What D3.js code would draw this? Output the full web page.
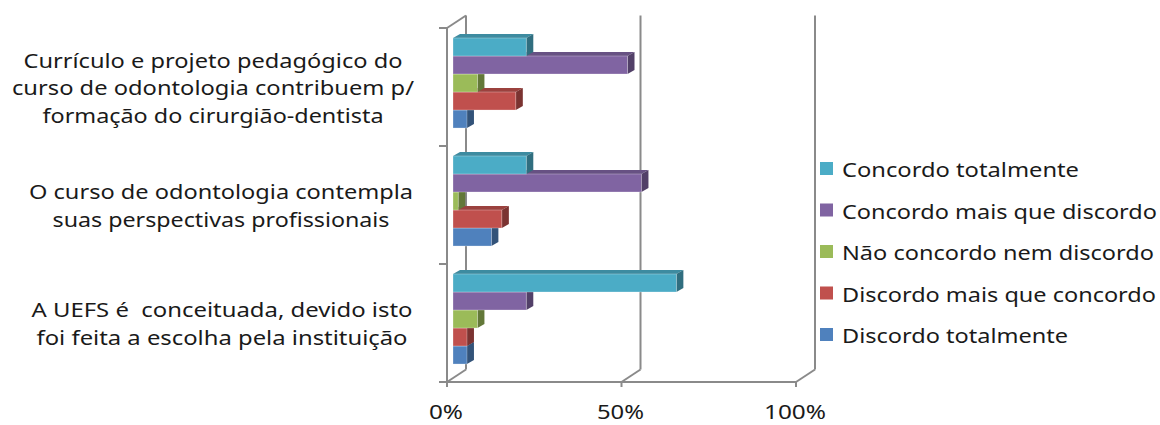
<!DOCTYPE html>
<html>
<head>
<meta charset="utf-8">
<script src="https://cdn.jsdelivr.net/npm/d3@7"></script>
<style>
  html, body { margin: 0; padding: 0; background: #fff; }
  svg { display: block; }
  text { font-family: "Noto Sans", "Open Sans", sans-serif; fill: #1a1a1a; white-space: pre; }
</style>
</head>
<body>
<svg id="chart" width="1160" height="425"></svg>
<script>
// ---------- DATA ----------
const categories = [
  ["Currículo e projeto pedagógico do", "curso de odontologia contribuem p/", "formação do cirurgião-dentista"],
  ["O curso de odontologia contempla", "suas perspectivas profissionais"],
  ["A UEFS é  conceituada, devido isto", "foi feita a escolha pela instituição"]
];
const seriesNames = [
  "Concordo totalmente",
  "Concordo mais que discordo",
  "Não concordo nem discordo",
  "Discordo mais que concordo",
  "Discordo totalmente"
];
// values in %, one per category (top to bottom)
const concordoTotalmente      = [21, 21, 64];
const concordoMaisQueDiscordo = [50, 54, 21];
const naoConcordoNemDiscordo  = [7, 1.5, 7];
const discordoMaisQueConcordo = [18, 14, 4];
const discordoTotalmente      = [4, 11, 4];
const seriesValues = [concordoTotalmente, concordoMaisQueDiscordo, naoConcordoNemDiscordo, discordoMaisQueConcordo, discordoTotalmente];
const xTicks = [0, 50, 100];
const xTickLabels = ["0%", "50%", "100%"];

// ---------- LAYOUT / STYLE ----------
const colors = ["#4BACC6", "#8064A2", "#9BBB59", "#C0504D", "#4F81BD"];
const labelWidths = [[379, 402, 341], [384, 337], [381, 371]];
const labelCenters = [213, 221, 222];
const legendWidths = [237, 315, 312, 314, 226];
const plot = { left: 447, right: 796, top: 28, bottom: 382 };
const DX = 19, DY = -12.5;      // wall depth
const BX = 6, BY = -4;          // bar plane offset
const BDX = 7, BDY = -4;        // bar depth
const gridColor = "#8a8a8a";

const svg = d3.select("#chart");
const x = d3.scaleLinear().domain([0, 100]).range([plot.left, plot.right]);
const catIdx = d3.range(categories.length);
const y = d3.scaleBand().domain(catIdx).range([plot.top, plot.bottom])
  .paddingInner(0.237).paddingOuter(0.1185);
const ySeries = d3.scaleBand().domain(d3.range(seriesNames.length)).range([0, y.bandwidth()]);

// ---------- WALLS / FLOOR ----------
const g = svg.append("g").attr("fill", "none").attr("stroke", gridColor).attr("stroke-width", 2);
xTicks.forEach(t => {
  g.append("line").attr("x1", x(t) + DX).attr("x2", x(t) + DX)
    .attr("y1", plot.top + DY).attr("y2", plot.bottom + DY);
  g.append("line").attr("x1", x(t)).attr("x2", x(t) + DX)
    .attr("y1", plot.bottom).attr("y2", plot.bottom + DY);
  g.append("line").attr("x1", x(t)).attr("x2", x(t))
    .attr("y1", plot.bottom).attr("y2", plot.bottom + 5);
});
g.append("line").attr("x1", x(0)).attr("x2", x(100)).attr("y1", plot.bottom).attr("y2", plot.bottom);
g.append("line").attr("x1", x(0)).attr("x2", x(0)).attr("y1", plot.top).attr("y2", plot.bottom);
g.append("line").attr("x1", x(0)).attr("x2", x(0) + DX).attr("y1", plot.top).attr("y2", plot.top + DY);
const bounds = [plot.top].concat(catIdx.map(i => y(i) + y.bandwidth() + y.step() * 0.1185));
bounds.forEach(b => {
  g.append("line").attr("x1", x(0) - 8).attr("x2", x(0)).attr("y1", b).attr("y2", b);
});

// ---------- BARS ----------
const bars = svg.append("g");
catIdx.forEach(ci => {
  for (let si = seriesNames.length - 1; si >= 0; si--) {
    const v = seriesValues[si][ci];
    const x0 = x(0) + BX, x1 = x(v) + BX;
    const y0 = y(ci) + ySeries(si) + BY, h = ySeries.bandwidth();
    const c = d3.color(colors[si]);
    const topC = c.darker(0.6).formatHex();
    const sideC = c.darker(1.25).formatHex();
    bars.append("polygon")
      .attr("points", [[x0, y0], [x0 + BDX, y0 + BDY], [x1 + BDX, y0 + BDY], [x1, y0]].join(" "))
      .attr("fill", topC);
    bars.append("polygon")
      .attr("points", [[x1, y0], [x1 + BDX, y0 + BDY], [x1 + BDX, y0 + h + BDY], [x1, y0 + h]].join(" "))
      .attr("fill", sideC);
    bars.append("rect")
      .attr("x", x0).attr("y", y0).attr("width", Math.max(0, x1 - x0)).attr("height", h)
      .attr("fill", colors[si]).attr("stroke", "rgba(255,255,255,0.35)").attr("stroke-width", 0.8);
  }
});

// ---------- CATEGORY LABELS ----------
categories.forEach((lines, ci) => {
  const cy = y(ci) + y.bandwidth() / 2 + 8;
  lines.forEach((line, li) => {
    svg.append("text")
      .attr("x", labelCenters[ci]).attr("y", cy + (li - (lines.length - 1) / 2) * 27.5)
      .attr("text-anchor", "middle").attr("font-size", 19)
      .attr("textLength", labelWidths[ci][li]).attr("lengthAdjust", "spacingAndGlyphs")
      .text(line);
  });
});

// ---------- X AXIS LABELS ----------
xTicks.forEach((t, i) => {
  svg.append("text").attr("x", x(t) - 1).attr("y", 419)
    .attr("text-anchor", "middle").attr("font-size", 19.5)
    .attr("textLength", [34, 47, 62][i]).attr("lengthAdjust", "spacingAndGlyphs")
    .text(xTickLabels[i]);
});

// ---------- LEGEND ----------
const leg = svg.append("g");
seriesNames.forEach((name, i) => {
  const cy = 169 + i * 41.5;
  leg.append("rect").attr("x", 820).attr("y", cy - 7).attr("width", 13).attr("height", 13)
    .attr("fill", colors[i]);
  leg.append("text").attr("x", 842).attr("y", cy + 8).attr("font-size", 20)
    .attr("textLength", legendWidths[i]).attr("lengthAdjust", "spacingAndGlyphs")
    .text(name);
});
</script>
</body>
</html>
